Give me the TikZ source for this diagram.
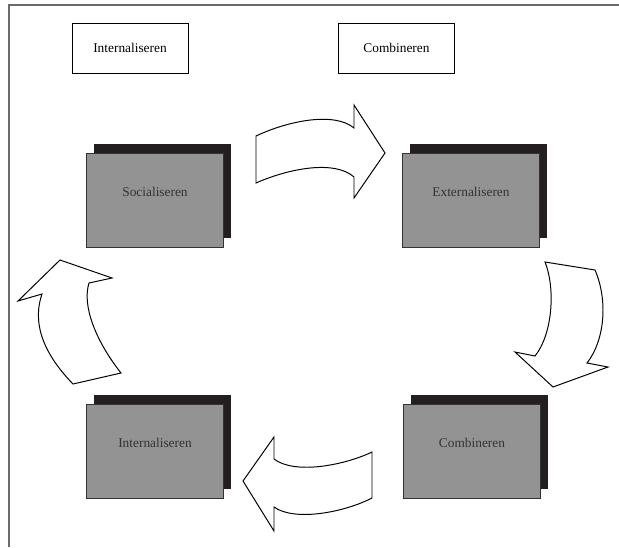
\documentclass[tikz,border=0pt]{standalone}
\usepackage{fontspec}
\setmainfont{Liberation Serif}
\usepackage{xcolor}
\usepackage{tikz}
\usetikzlibrary{shadows}
\definecolor{vlak}{HTML}{939393}
\definecolor{schaduw}{HTML}{231F20}
\definecolor{rand}{HTML}{6A6A6A}

\begin{document}
\begin{tikzpicture}[x=0.25mm,y=-0.25mm,
every node/.style={font=\fontsize{9.5}{11}\selectfont},
kop/.style={draw,line width=0.7pt,minimum width=29mm,minimum height=12.5mm,inner sep=0mm},
fase/.style={draw=black!80,line width=0.6pt,fill=vlak,text=black!80,
  minimum width=34.25mm,minimum height=23.5mm,inner sep=0mm,
  text height=2.5mm,text depth=4.3mm,
  general shadow={fill=schaduw,shadow xshift=1.75mm,shadow yshift=2.25mm}},
pijl/.style={draw,fill=white,line width=0.7pt,line join=miter}
]
\useasboundingbox (0,0) rectangle (619,547);
% kader
\draw[rand,line width=0.4mm] (9,547) -- (9,5) -- (619,5);

% bovenste kaders
\path (130,48) node[kop] (int0) {Internaliseren}
      (396.5,48) node[kop] (comb0) {Combineren};

% vier fasen
\path (155,200) node[fase] (soc) {Socialiseren}
      (471,200) node[fase] (ext) {Externaliseren}
      (472,451) node[fase] (comb) {Combineren\hspace{5mm}}
      (155,451) node[fase] (int) {Internaliseren};

% pijlen
\draw[pijl] (256,136) .. controls (290,120) and (335,112) .. (354,128)
  -- (354,105) -- (385,153) -- (354,198) -- (354,177)
  .. controls (335,160) and (290,168) .. (256,183) -- cycle;
\draw[pijl] (545,262) -- (595,270) .. controls (608,300) and (605,340) .. (587,363)
  -- (608,367) -- (553,387) -- (515,352) -- (535,356)
  .. controls (552,335) and (556,290) .. (545,262) -- cycle;
\draw[pijl] (372,452) .. controls (345,465) and (295,475) .. (274,459)
  -- (274,437) -- (243,481) -- (274,531) -- (274,507)
  .. controls (295,522) and (345,512) .. (372,498) -- cycle;
\draw[pijl] (73,384) -- (121,373) .. controls (95,340) and (82,305) .. (89,283)
  -- (112,278) -- (60,260) -- (18,301) -- (42,294)
  .. controls (33,320) and (40,350) .. (73,384) -- cycle;
\end{tikzpicture}
\end{document}
